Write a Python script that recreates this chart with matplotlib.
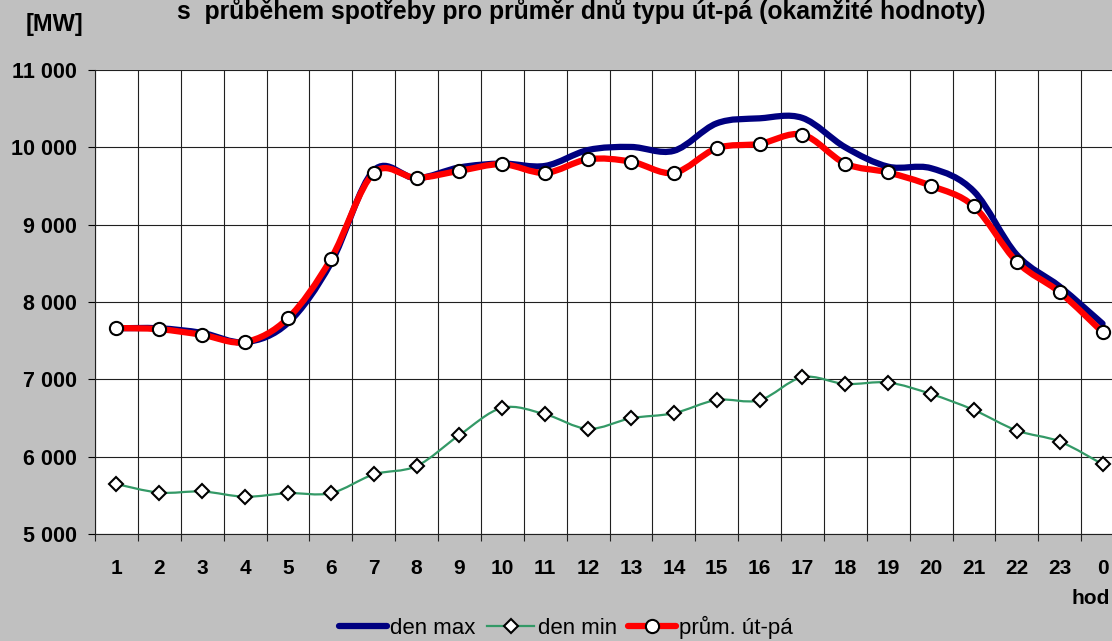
import numpy as np
import matplotlib
matplotlib.use("Agg")
import matplotlib.pyplot as plt
from matplotlib.path import Path
from matplotlib.patches import PathPatch
from matplotlib.lines import Line2D
from matplotlib.ticker import FuncFormatter, MultipleLocator

plt.rcParams["font.family"] = ["Liberation Sans", "DejaVu Sans"]

# hodiny 1..23, 0
hodiny = ["1", "2", "3", "4", "5", "6", "7", "8", "9", "10", "11", "12",
          "13", "14", "15", "16", "17", "18", "19", "20", "21", "22", "23", "0"]

den_max = [7660, 7660, 7600, 7480, 7730, 8500, 9700, 9600, 9740, 9790,
           9760, 9965, 10005, 9955, 10310, 10375, 10380, 10000, 9750, 9730,
           9430, 8610, 8200, 7720]
den_min = [5646, 5535, 5550, 5482, 5528, 5528, 5770, 5879, 6280, 6632,
           6548, 6360, 6497, 6562, 6733, 6730, 7028, 6940, 6958, 6810,
           6603, 6338, 6196, 5902]
prumer = [7664, 7648, 7576, 7483, 7790, 8554, 9668, 9605, 9696, 9782,
          9670, 9846, 9816, 9670, 9988, 10045, 10164, 9790, 9675, 9503,
          9236, 8520, 8127, 7610]

BARVA_MAX = "#000080"
BARVA_MIN = "#339966"
BARVA_PRUM = "#FF0000"


def hladka_cesta(x, y):
    """Excel-like vyhlazená čára: Catmull-Rom převedený na kubické Bézierovy segmenty."""
    p = np.column_stack([x, y]).astype(float)
    n = len(p)
    verts = [p[0]]
    codes = [Path.MOVETO]
    for i in range(n - 1):
        p0 = p[i - 1] if i > 0 else p[i]
        p1, p2 = p[i], p[i + 1]
        p3 = p[i + 2] if i + 2 < n else p[i + 1]
        c1 = p1 + (p2 - p0) / 6.0
        c2 = p2 - (p3 - p1) / 6.0
        verts += [c1, c2, p2]
        codes += [Path.CURVE4] * 3
    return Path(verts, codes)


x = np.arange(1, len(hodiny) + 1)

fig = plt.figure(figsize=(11.12, 6.41), dpi=100, facecolor="#C0C0C0")
ax = fig.add_axes([95 / 1112, 107 / 641, 1029 / 1112, 464 / 641])
ax.set_facecolor("white")

ax.set_xlim(0.5, 24.5)
ax.set_ylim(5000, 11000)

# mřížka
ax.xaxis.set_major_locator(MultipleLocator(1))
ax.xaxis.set_minor_locator(MultipleLocator(1, offset=0.5))
ax.yaxis.set_major_locator(MultipleLocator(1000))
ax.grid(True, which="minor", axis="x", color="#202020", linewidth=0.8)
ax.grid(True, which="major", axis="y", color="#202020", linewidth=0.8)
ax.set_axisbelow(True)

ax.set_xticks(x)
ax.set_xticklabels(hodiny)
ax.tick_params(axis="x", which="major", length=0, pad=18, labelsize=15)
ax.tick_params(axis="x", which="minor", length=5, width=0.8, color="#202020")
ax.tick_params(axis="y", which="major", length=5, width=0.8, pad=8, labelsize=15.5)
for lab in ax.get_xticklabels() + ax.get_yticklabels():
    lab.set_fontweight("bold")
ax.yaxis.set_major_formatter(FuncFormatter(lambda v, _: f"{int(v):,}".replace(",", " ")))

for s in ["top", "right"]:
    ax.spines[s].set_visible(False)
ax.spines["left"].set_color("#202020")
ax.spines["bottom"].set_color("#202020")

# křivky
ax.add_patch(PathPatch(hladka_cesta(x, den_max), fill=False, edgecolor=BARVA_MAX,
                       linewidth=4.5, capstyle="round", zorder=3))
ax.add_patch(PathPatch(hladka_cesta(x, den_min), fill=False, edgecolor=BARVA_MIN,
                       linewidth=1.6, zorder=3))
ax.plot(x, den_min, linestyle="none", marker="D", markersize=7.5,
        markerfacecolor="white", markeredgecolor="black", markeredgewidth=1.5, zorder=4)
ax.add_patch(PathPatch(hladka_cesta(x, prumer), fill=False, edgecolor=BARVA_PRUM,
                       linewidth=4.5, capstyle="round", zorder=5))
ax.plot(x, prumer, linestyle="none", marker="o", markersize=9.5,
        markerfacecolor="white", markeredgecolor="black", markeredgewidth=1.5, zorder=6)

# texty
fig.text(581 / 1112, 1 - 19 / 641,
         "s  průběhem spotřeby pro průměr dnů typu út-pá (okamžité hodnoty)",
         ha="center", va="baseline", fontsize=17.8, fontweight="bold")
fig.text(54 / 1112, 1 - 24 / 641, "[MW]", ha="center", va="center",
         fontsize=17, fontweight="bold")
fig.text(1091 / 1112, 1 - 599 / 641, "hod", ha="center", va="center",
         fontsize=15, fontweight="bold")

handles = [
    Line2D([], [], color=BARVA_MAX, linewidth=4.5, solid_capstyle="round"),
    Line2D([], [], color=BARVA_MIN, linewidth=1.6, marker="D", markersize=7,
           markerfacecolor="white", markeredgecolor="black", markeredgewidth=1.5),
    Line2D([], [], color=BARVA_PRUM, linewidth=4.5, solid_capstyle="round", marker="o",
           markersize=9.5, markerfacecolor="white", markeredgecolor="black",
           markeredgewidth=1.5),
]
fig.legend(handles, ["den max", "den min", "prům. út-pá"], loc="center",
           bbox_to_anchor=(566 / 1112, 1 - 627 / 641), ncol=3, frameon=False,
           fontsize=16, handlelength=2.15, handletextpad=0.15, columnspacing=0.5,
           borderpad=0)

fig.savefig("out.png", dpi=100, facecolor=fig.get_facecolor())
